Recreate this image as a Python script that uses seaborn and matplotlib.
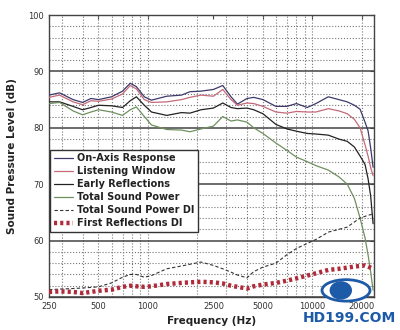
import numpy as np
import pandas as pd
import matplotlib
matplotlib.use("Agg")
import matplotlib.pyplot as plt
import matplotlib.ticker as mticker
from matplotlib.patches import Ellipse, Circle
import seaborn as sns

freq = [250, 290, 350, 400, 450, 500, 600, 700, 780, 850, 950, 1050, 1300, 1600, 1800,
        2100, 2500, 2850, 3200, 3500, 4000, 4400, 5000, 6000, 7000, 8000, 9300, 10500,
        12500, 14500, 16300, 18000, 19500, 20900, 21800, 22600, 23400]

on_axis = [85.8, 86.2, 85.0, 84.5, 85.2, 85.0, 85.5, 86.5, 87.9, 87.3, 85.5, 84.9, 85.6, 85.8,
           86.4, 86.5, 86.8, 87.5, 85.5, 84.2, 85.2, 85.4, 85.0, 83.8, 83.8, 84.3, 83.6, 84.3,
           85.5, 85.0, 84.6, 84.0, 83.3, 81.0, 79.5, 76.5, 73.0]
listening = [85.4, 85.8, 84.6, 84.1, 84.8, 84.7, 85.1, 86.0, 87.5, 86.9, 85.0, 84.5, 84.6, 85.0,
             85.4, 85.8, 85.6, 86.8, 85.0, 84.0, 84.4, 84.3, 83.8, 82.8, 82.6, 82.9, 82.8, 82.8,
             83.4, 83.0, 82.5, 81.5, 80.0, 77.0, 75.0, 73.0, 71.5]
early = [84.6, 84.6, 83.8, 83.2, 83.6, 84.0, 83.9, 83.6, 84.8, 85.5, 84.0, 82.8, 82.2, 82.7,
         82.6, 83.2, 83.5, 84.4, 83.6, 83.4, 83.5, 83.2, 82.5, 80.6, 79.8, 79.4, 79.0, 78.9,
         78.7, 78.0, 77.6, 76.6, 75.0, 73.5, 71.0, 68.0, 63.0]
sound_power = [84.3, 84.5, 83.0, 82.3, 82.8, 83.2, 82.8, 82.2, 83.2, 83.7, 82.0, 80.5, 79.7, 79.6,
               79.3, 79.8, 80.3, 82.0, 81.2, 81.4, 81.0, 80.0, 79.0, 77.3, 76.0, 74.8, 74.0, 73.3,
               72.5, 71.3, 70.0, 67.5, 64.0, 60.5, 57.5, 54.5, 51.2]
sp_di = [51.3, 51.4, 51.5, 51.6, 51.7, 51.8, 52.5, 53.5, 54.0, 54.0, 53.5, 53.8, 55.0, 55.5,
         55.8, 56.2, 55.6, 55.0, 54.4, 53.9, 53.4, 54.5, 55.3, 56.0, 57.5, 58.6, 59.5, 60.2,
         61.5, 62.0, 62.4, 63.3, 64.0, 64.3, 64.5, 64.6, 64.8]
fr_di = [50.9, 51.0, 50.9, 50.7, 50.9, 51.1, 51.3, 51.8, 52.0, 51.9, 51.8, 51.9, 52.3, 52.5,
         52.6, 52.7, 52.6, 52.4, 52.0, 51.8, 51.5, 51.9, 52.2, 52.5, 52.9, 53.3, 53.8, 54.2,
         54.8, 55.0, 55.2, 55.4, 55.5, 55.6, 55.4, 55.2, 55.0]

names = ["On-Axis Response", "Listening Window", "Early Reflections",
         "Total Sound Power", "Total Sound Power DI", "First Reflections DI"]
series = [on_axis, listening, early, sound_power, sp_di, fr_di]
x_ticks = [250, 500, 1000, 2500, 5000, 10000, 20000]
x_ticklabels = ["250", "500", "1000", "2500", "5000", "10000", "20000"]
y_ticks = [50, 60, 70, 80, 90, 100]

sns.set_style("white")
plt.rcParams['font.family'] = ['DejaVu Sans']

fig = plt.figure(figsize=(4, 3.3), dpi=100)
ax = fig.add_axes([0.1225, 0.1, 0.8125, 0.8545])

colors = ["#3d3a6b", "#c46a7a", "#222222", "#6f8f5f", "#333333", "#b02a3a"]
widths = [0.9, 0.9, 0.9, 0.9, 0.8, 3.2]
styles = ["-", "-", "-", "-", (0, (3, 2)), (0, (0.7, 0.7))]

for name, vals, c, w, ls in zip(names, series, colors, widths, styles):
    df = pd.DataFrame({"Frequency": freq, "SPL": vals})
    sns.lineplot(data=df, x="Frequency", y="SPL", ax=ax, color=c, linewidth=w,
                 linestyle=ls, label=name, zorder=3)

ax.set_xscale("log")
ax.set_xlim(250, 23700)
ax.set_ylim(50, 100)

ax.xaxis.set_major_locator(mticker.FixedLocator(x_ticks))
ax.xaxis.set_major_formatter(mticker.FixedFormatter(x_ticklabels))
ax.xaxis.set_minor_locator(mticker.LogLocator(base=10, subs=np.arange(1, 10)))
ax.xaxis.set_minor_formatter(mticker.NullFormatter())
ax.xaxis.remove_overlapping_locs = False
ax.yaxis.set_major_locator(mticker.FixedLocator(y_ticks))
ax.yaxis.set_minor_locator(mticker.MultipleLocator(2))

ax.grid(False)
ax.grid(True, which="minor", axis="x", linestyle=":", color="#777777", linewidth=0.8)
ax.grid(True, which="minor", axis="y", linestyle=":", color="#777777", linewidth=0.8)
ax.grid(True, which="major", axis="y", linestyle="-", color="#444444", linewidth=1.1)

ax.tick_params(which="both", direction="in", top=True, right=True, length=3,
               labelsize=6, labelcolor="#333333", color="#444444")
ax.tick_params(which="minor", length=0)
for s in ax.spines.values():
    s.set_color("#444444")
    s.set_linewidth(1.0)

ax.set_xlabel("Frequency (Hz)", fontsize=7.5, fontweight="bold", color="#222222", labelpad=4)
ax.set_ylabel("Sound Pressure Level (dB)", fontsize=7.5, fontweight="bold", color="#222222", labelpad=8)

leg = ax.legend(loc="upper left", bbox_to_anchor=(0.003, 0.523), fontsize=7,
                prop={"weight": "bold", "size": 7}, frameon=True, fancybox=False,
                borderpad=0.4, labelspacing=0.3, handlelength=2.0, handletextpad=0.4,
                borderaxespad=0.0)
leg.get_frame().set_edgecolor("#333333")
leg.get_frame().set_linewidth(1.0)
leg.get_frame().set_alpha(1.0)
for t in leg.get_texts():
    t.set_color("#222222")

# watermark logo
fig.patches.append(Ellipse((0.865, 0.12), 0.12, 0.065, transform=fig.transFigure,
                           facecolor="white", edgecolor="#1d5aa8", linewidth=2.0, zorder=10))
fig.patches.append(Circle((0.852, 0.12), 0.028, transform=fig.transFigure,
                          facecolor="#1d5aa8", edgecolor="none", zorder=11))
fig.text(0.99, 0.035, "HD199.COM", fontsize=10, fontweight="bold", color="#1d5aa8",
         ha="right", va="center")

fig.savefig("out.png", dpi=100, facecolor="white")
